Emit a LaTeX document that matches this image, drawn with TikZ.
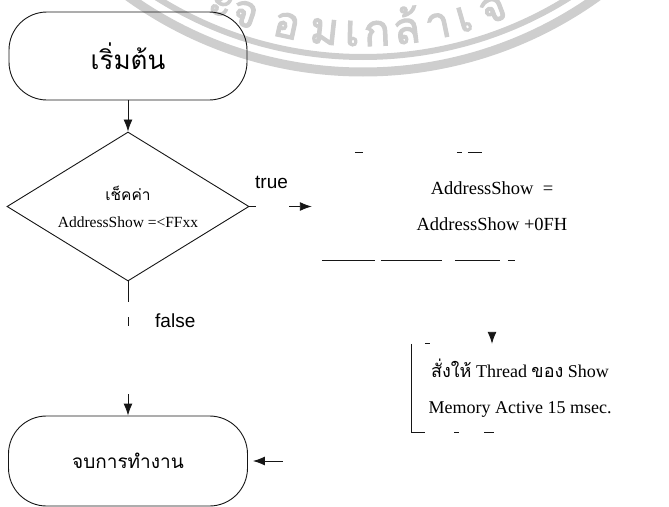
\documentclass[tikz,border=0pt]{standalone}
\usepackage{fontspec}
\setmainfont{Liberation Serif}
\newfontfamily\thaifont[Script=Thai]{Loma}
\newfontfamily\sealfont[Script=Thai,FakeBold=2.5]{Loma}
\newfontfamily\labelfont{Liberation Sans}
\usetikzlibrary{shapes.geometric,arrows.meta,calc}
\definecolor{ink}{RGB}{22,22,22}
\definecolor{seal}{RGB}{206,206,206}

\begin{document}
\begin{tikzpicture}[x=1pt,y=-1pt,
  terminal/.style={draw=ink, line width=0.9pt, rectangle, rounded corners=38pt,
    minimum width=238pt, minimum height=88pt, inner sep=0pt},
  decision/.style={draw=ink, line width=0.9pt, diamond, aspect=1.6,
    minimum width=242pt, minimum height=149pt, inner sep=0pt, align=center},
  procbox/.style={rectangle, inner sep=0pt, align=center},
  flow/.style={draw=ink, line width=0.9pt, -{Latex[length=12pt,width=9pt]}},
  edgebit/.style={draw=ink, line width=0.9pt},
  branch/.style={font=\labelfont\fontsize{19}{22}\selectfont, inner sep=0pt, anchor=base west},
  sealband/.style={draw=seal},
  sealtext/.style={text=seal, font=\sealfont\fontsize{44}{48}\selectfont, inner sep=0pt, anchor=base}]

\useasboundingbox (0,0) rectangle (669,506);

% faint seal in the background
\coordinate (wc) at (363,-331);
\begin{scope}
  \clip (0,0) rectangle (669,506);
  \draw[sealband, line width=9pt] (wc) circle[radius=403pt];
  \draw[sealband, line width=6pt] (wc) circle[radius=388pt];
  \foreach \a/\g in {112.9/ะ,108.9/จ,102.1/อ,96.1/ม,91.7/เ,87.8/ก,83.1/ล้,78.1/า,73.9/เ,69.1/จ้}
    \node[sealtext, rotate=90-\a] at ($(wc)+(\a:377)$) {\g};
\end{scope}

% flowchart nodes
\node[terminal, font=\thaifont\fontsize{26}{30}\selectfont] (start) at (128,56) {เริ่มต้น};
\node[decision, font=\fontsize{15.5}{27}\selectfont] (chk) at (128,206.5)
  {{\thaifont เช็คค่า}\\AddressShow =<FFxx};
\node[procbox, minimum width=360pt, minimum height=107pt, font=\fontsize{18.5}{36}\selectfont]
  (calc) at (492,206.5) {AddressShow\ \ =\\AddressShow +0FH};
\node[procbox, minimum width=216pt, minimum height=88pt, font=\fontsize{18}{36}\selectfont]
  (show) at (520,388) {{\thaifont สั่งให้} Thread {\thaifont ของ} Show\\Memory Active 15 msec.};
\node[terminal, minimum width=239pt, minimum height=90pt, font=\thaifont\fontsize{19}{24}\selectfont]
  (stop) at (128,461) {จบการทำงาน};

% box outlines (only the printed stretches)
\draw[edgebit, dash pattern=on 0pt off 43pt on 8pt off 94pt on 5pt off 6pt on 14pt off 400pt]
  (calc.north west) -- (calc.north east);
\draw[edgebit, dash pattern=on 0pt off 10pt on 53pt off 6pt on 61pt off 13pt on 45pt off 8pt on 7pt off 400pt]
  (calc.south west) -- (calc.south east);
\draw[edgebit, dash pattern=on 0pt off 13pt on 5pt off 400pt]
  (show.north west) -- (show.north east);
\draw[edgebit, dash pattern=on 102pt off 29pt on 5pt off 25pt on 10pt off 600pt]
  (show.north west) -- (show.south west) -- (show.south east);

% connectors
\draw[flow] (start) -- (chk);
\draw[flow, dash pattern=on 7pt off 33pt on 40pt] (chk) -- (calc);
\draw[flow, dash pattern=on 21pt off 15pt on 9pt off 68pt on 40pt] (chk) -- (stop);
\draw[flow, dash pattern=on 0pt off 200pt] (calc.south) -- (calc.south |- show.north);
\draw[flow, shorten >=5pt, dash pattern=on 0pt off 266pt on 40pt] (show.south) |- (stop.east);

% branch labels
\node[branch] (ltrue) at (255,188) {true};
\node[branch] (lfalse) at (155,327) {false};

\end{tikzpicture}
\end{document}
